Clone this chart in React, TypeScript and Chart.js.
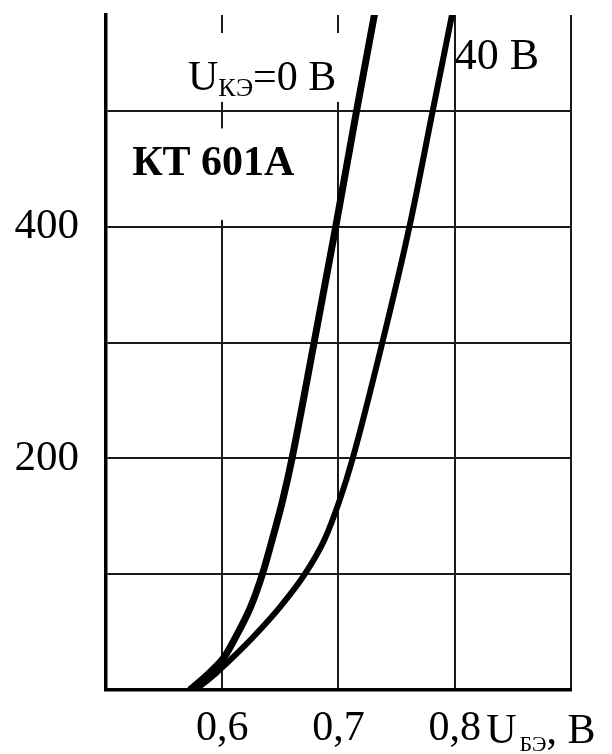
import React, { useEffect, useRef } from "react";
import { Chart, registerables } from "chart.js";

Chart.register(...registerables);

// U_BE (V) vs I (mA) curves for KT601A
const ube0 = [0.572, 0.589, 0.602, 0.6106, 0.6245, 0.6345, 0.643, 0.652, 0.660, 0.679, 0.6976, 0.7155, 0.734];
const ic0 = [0, 15, 29, 44, 72, 100, 130, 164, 200, 300, 400, 500, 600];
const ube40 = [0.577, 0.595, 0.610, 0.625, 0.650, 0.671, 0.688, 0.701, 0.7122, 0.7377, 0.761, 0.781, 0.801];
const ic40 = [0, 15, 29, 44, 72, 100, 130, 164, 200, 300, 400, 500, 600];

const xTickLabels: Record<string, string> = { "0.6": "0,6", "0.7": "0,7", "0.8": "0,8" };
const yTickLabels: Record<string, string> = { "200": "200", "400": "400" };

const FONT = '"Liberation Serif", "DejaVu Serif", serif';

const annotationPlugin = {
  id: "annotations",
  beforeDatasetsDraw(chart: any) {
    const { ctx, scales } = chart;
    const x = scales.x;
    const y = scales.y;
    ctx.save();
    // white boxes behind labels
    ctx.fillStyle = "#fff";
    const b1x = x.getPixelForValue(0.566);
    const b1y = 33;
    ctx.fillRect(b1x, b1y, x.getPixelForValue(0.709) - b1x, y.getPixelForValue(508) - b1y);
    const b2x = x.getPixelForValue(0.515);
    const b2y = y.getPixelForValue(485);
    ctx.fillRect(b2x, b2y, x.getPixelForValue(0.675) - b2x, y.getPixelForValue(406) - b2y);

    ctx.fillStyle = "#000";
    ctx.textBaseline = "alphabetic";
    ctx.textAlign = "left";
    // U_KE = 0 B
    let px = x.getPixelForValue(0.5705);
    const py = y.getPixelForValue(518);
    ctx.font = `42px ${FONT}`;
    ctx.fillText("U", px, py);
    px += ctx.measureText("U").width;
    ctx.font = `26px ${FONT}`;
    ctx.fillText("КЭ", px, py + 6);
    px += ctx.measureText("КЭ").width;
    ctx.font = `42px ${FONT}`;
    ctx.fillText("=0 В", px, py);

    // 40 B
    ctx.font = `44px ${FONT}`;
    ctx.fillText("40 В", x.getPixelForValue(0.8), y.getPixelForValue(536));

    // KT 601A
    ctx.font = `bold 42px ${FONT}`;
    ctx.fillText("КТ 601А", x.getPixelForValue(0.5225), y.getPixelForValue(445));
    ctx.restore();
  },
  afterDraw(chart: any) {
    const { ctx, scales } = chart;
    const x = scales.x;
    ctx.save();
    ctx.fillStyle = "#000";
    ctx.textBaseline = "alphabetic";
    ctx.textAlign = "left";
    let px = x.getPixelForValue(0.827);
    const py = 743;
    ctx.font = `42px ${FONT}`;
    ctx.fillText("U", px, py);
    px += ctx.measureText("U").width + 3;
    ctx.font = `22px ${FONT}`;
    ctx.fillText("БЭ", px, py + 8);
    px += ctx.measureText("БЭ").width;
    ctx.font = `42px ${FONT}`;
    ctx.fillText(", В", px, py);
    ctx.restore();
  },
};

export default function App() {
  const ref = useRef<HTMLCanvasElement | null>(null);
  useEffect(() => {
    document.body.style.margin = "0";
    const canvas = ref.current!;
    const chart = new Chart(canvas, {
      type: "scatter",
      data: {
        datasets: [
          {
            label: "0 В",
            data: ube0.map((v, i) => ({ x: v, y: ic0[i] })),
            showLine: true,
            borderColor: "#000",
            borderWidth: 7,
            pointRadius: 0,
            cubicInterpolationMode: "monotone",
          },
          {
            label: "40 В",
            data: ube40.map((v, i) => ({ x: v, y: ic40[i] })),
            showLine: true,
            borderColor: "#000",
            borderWidth: 6,
            pointRadius: 0,
            cubicInterpolationMode: "monotone",
          },
        ],
      },
      options: {
        responsive: false,
        animation: false,
        events: [],
        layout: { padding: { top: 15, right: 41, left: 0, bottom: 0 } },
        plugins: { legend: { display: false }, tooltip: { enabled: false } },
        scales: {
          x: {
            type: "linear",
            min: 0.5,
            max: 0.9,
            afterFit: (s: any) => {
              s.height = 64;
              s.paddingLeft = 0;
              s.paddingRight = 0;
            },
            border: { display: true, color: "#000", width: 3.5 },
            grid: { color: "#1a1a1a", lineWidth: 2, drawTicks: false },
            ticks: {
              stepSize: 0.1,
              padding: 14,
              color: "#000",
              font: { family: FONT, size: 42 },
              maxRotation: 0,
              autoSkip: false,
              callback: (v: any) => xTickLabels[String(Math.round(Number(v) * 10) / 10)] ?? "",
            },
          },
          y: {
            type: "linear",
            min: 0,
            max: 583,
            afterFit: (s: any) => {
              s.width = 106;
              s.paddingTop = 0;
              s.paddingBottom = 0;
            },
            border: { display: true, color: "#000", width: 3.5 },
            grid: { color: "#1a1a1a", lineWidth: 2, drawTicks: false },
            ticks: {
              stepSize: 100,
              includeBounds: false,
              padding: 27,
              color: "#000",
              font: { family: FONT, size: 43 },
              autoSkip: false,
              callback: (v: any) => yTickLabels[String(v)] ?? "",
            },
          },
        },
      },
      plugins: [annotationPlugin],
    } as any);
    return () => chart.destroy();
  }, []);
  return <canvas ref={ref} width={612} height={754} style={{ display: "block" }} />;
}
